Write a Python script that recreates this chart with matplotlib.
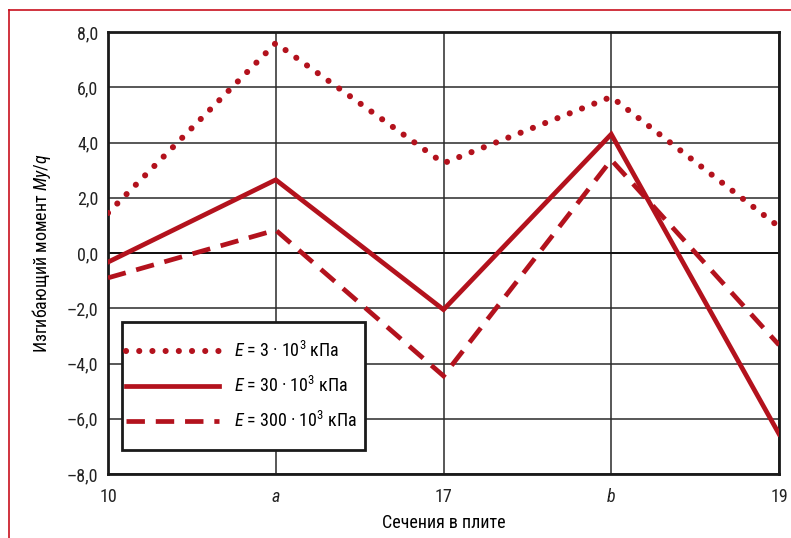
import matplotlib
matplotlib.use("Agg")
import matplotlib.pyplot as plt
from matplotlib.lines import Line2D
from matplotlib.patches import Rectangle
from matplotlib import font_manager
import numpy as np

# Values
sections = ["10", "a", "17", "b", "19"]
y_ticks = [-8, -6, -4, -2, 0, 2, 4, 6, 8]
y_tick_labels = ["\u20138,0", "\u20136,0", "\u20134,0", "\u20132,0", "0,0", "2,0", "4,0", "6,0", "8,0"]

moment_e3 = [1.45, 7.6, 3.25, 5.65, 0.95]
moment_e30 = [-0.33, 2.65, -2.05, 4.3, -6.55]
moment_e300 = [-0.9, 0.83, -4.45, 3.37, -3.33]

labels = [
    r"$\mathit{E}$ = 3 · 10$^{3}$ кПа",
    r"$\mathit{E}$ = 30 · 10$^{3}$ кПа",
    r"$\mathit{E}$ = 300 · 10$^{3}$ кПа",
]

RED = "#b3121d"

# prefer a condensed face if one is installed
installed = {f.name for f in font_manager.fontManager.ttflist}
condensed = [n for n in ("Roboto Condensed", "Liberation Sans Narrow", "Open Sans Condensed")
             if n in installed]
BASE = condensed[0] if condensed else "Liberation Sans"
FS = 13 if condensed else 11.5

plt.rcParams["font.family"] = [BASE, "DejaVu Sans"]
plt.rcParams["mathtext.fontset"] = "custom"
plt.rcParams["mathtext.rm"] = BASE
plt.rcParams["mathtext.it"] = BASE + ":italic"


def main():
    fig = plt.figure(figsize=(7.91, 5.38), dpi=100)
    ax_w, ax_h = 671, 442
    ax = fig.add_axes([108 / 791, 1 - 474 / 538, ax_w / 791, ax_h / 538])

    x = np.arange(len(sections))

    ax.plot(x, moment_e3, color=RED, linewidth=4.4,
            linestyle=(0, (0.01, 2.15)), dash_capstyle="round",
            label=labels[0], zorder=3)
    ax.plot(x, moment_e30, color=RED, linewidth=3.4,
            solid_joinstyle="miter", label=labels[1], zorder=3)
    ax.plot(x, moment_e300, color=RED, linewidth=3.4,
            linestyle=(0, (3.9, 2.3)), dash_joinstyle="miter",
            label=labels[2], zorder=3)

    ax.set_xlim(0, len(sections) - 1)
    ax.set_ylim(-8, 8)
    ax.set_xticks(x)
    ax.set_xticklabels(sections)
    for lbl, name in zip(ax.get_xticklabels(), sections):
        if name.isalpha():
            lbl.set_style("italic")
    ax.set_yticks(y_ticks)
    ax.set_yticklabels(y_tick_labels)

    ax.tick_params(axis="both", length=0, labelsize=FS, colors="#222222")
    ax.tick_params(axis="x", pad=10)
    ax.tick_params(axis="y", pad=7)

    ax.grid(True, color="#2a2a2a", linewidth=1.1)
    ax.axhline(0, color="#111111", linewidth=1.4, zorder=2)
    for spine in ax.spines.values():
        spine.set_linewidth(2.0)
        spine.set_color("#1a1a1a")

    ax.set_xlabel("Сечения в плите", fontsize=FS, labelpad=6)
    ax.set_ylabel(r"Изгибающий момент $\mathit{My/q}$", fontsize=FS, labelpad=10)

    # legend box drawn separately so the padding matches the reference
    box = Rectangle((14 / ax_w, 24 / ax_h), 243 / ax_w, 128 / ax_h,
                    transform=ax.transAxes, facecolor="white",
                    edgecolor="#1a1a1a", linewidth=2.0, zorder=4)
    ax.add_patch(box)
    px = FS * 100 / 72
    leg = ax.legend(loc="center left", bbox_to_anchor=(14 / ax_w, 88 / ax_h),
                    fontsize=FS, frameon=False,
                    handlelength=93 / px, handletextpad=15 / px,
                    labelspacing=(33 - px) / px,
                    borderpad=0.2, borderaxespad=0)
    leg.set_zorder(5)

    # thin red frame at top and left edge
    fig.add_artist(Line2D([9 / 791, 9 / 791], [0, 1 - 10 / 538],
                          color="#c8101e", linewidth=1.2,
                          transform=fig.transFigure))
    fig.add_artist(Line2D([9 / 791, 1], [1 - 10 / 538, 1 - 10 / 538],
                          color="#c8101e", linewidth=1.2,
                          transform=fig.transFigure))

    fig.savefig("out.png", dpi=100)
    plt.close(fig)


if __name__ == "__main__":
    main()
